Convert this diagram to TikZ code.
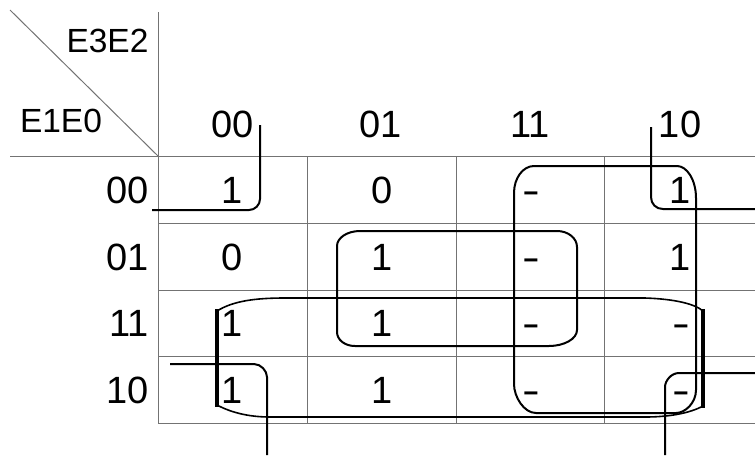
\documentclass[tikz,border=0pt]{standalone}
\usepackage{fontspec}
\setmainfont{Liberation Sans}
\newcommand{\dc}{\scalebox{1.4}[1]{-}}
\begin{document}
\begin{tikzpicture}[x=1pt,y=-1pt,
  gridline/.style={draw=black!55,line width=1pt},
  loopline/.style={draw=black,line width=2pt,line join=round},
  loopthin/.style={draw=black,line width=1.6pt,line join=round},
  loopside/.style={draw=black,line width=4.5pt},
  txt/.style={inner sep=0pt,text height=27.2pt,text depth=0pt,
    font=\fontsize{38}{40}\selectfont},
  vartxt/.style={inner sep=0pt,text height=24pt,text depth=0pt,
    font=\fontsize{33.5}{36}\selectfont}]
\useasboundingbox (0,0) rectangle (755,459);

% corner of the map: variable names and the diagonal
\draw[gridline] (10,10) -- (158,156);
\node[vartxt] (e32) at (107.5,40.5) {E3E2};
\node[vartxt] (e10) at (61,120) {E1E0};

% grid
\draw[gridline] (158,12) -- (158,423);
\draw[gridline] (10,156.5) -- (755,156.5);
\foreach \yy in {223,290,356,423} \draw[gridline] (158,\yy) -- (755,\yy);
\foreach \xx in {307,456,604} \draw[gridline] (\xx,156.5) -- (\xx,423);

% column headings
\node[txt] (c00) at (232.5,124) {00};
\node[txt] (c01) at (381,124) {01};
\node[txt] (c11) at (530,124) {11};
\node[txt] (c10) at (680,124) {10};

% row headings
\node[txt,anchor=east] (r00) at (149,190) {00};
\node[txt,anchor=east] (r01) at (149,256.5) {01};
\node[txt,anchor=east] (r11) at (149,323) {11};
\node[txt,anchor=east] (r10) at (149,390) {10};

% cell values
\node[txt] (v0000) at (232.5,190) {1};
\node[txt] (v0001) at (382,190) {0};
\node[txt] (v0011) at (531,190) {\dc};
\node[txt] (v0010) at (680,190) {1};
\node[txt] (v0100) at (232.5,256.5) {0};
\node[txt] (v0101) at (382,256.5) {1};
\node[txt] (v0111) at (531,256.5) {\dc};
\node[txt] (v0110) at (680,256.5) {1};
\node[txt] (v1100) at (232.5,323) {1};
\node[txt] (v1101) at (382,323) {1};
\node[txt] (v1111) at (531,323) {\dc};
\node[txt] (v1110) at (681,323) {\dc};
\node[txt] (v1000) at (232.5,390) {1};
\node[txt] (v1001) at (382,390) {1};
\node[txt] (v1011) at (531,390) {\dc};
\node[txt] (v1010) at (681,390) {\dc};

% loop: rows 01,11 x columns 01,11
\draw[loopline] (337,246) .. controls (337,238) and (347,231) .. (360,231)
  -- (557,231) .. controls (568,231) and (577,238) .. (577,247)
  -- (577,330) .. controls (577,339) and (564,346) .. (549,346)
  -- (355,346) .. controls (345,346) and (337,340) .. (337,332) -- cycle;

% loop: columns 11,10 x all rows
\draw[loopline] (514,193) .. controls (514,178) and (523,166) .. (534,166)
  -- (677,166) .. controls (687,166) and (696,180) .. (696,198)
  -- (696,390) .. controls (696,403) and (685,413) .. (676,413)
  -- (536,413) .. controls (524,413) and (514,397) .. (514,384) -- cycle;

% loop: rows 11,10 x all columns
\draw[loopthin] (217,311) .. controls (233,301) and (255,298) .. (285,298)
  -- (645,298) .. controls (675,299) and (695,304) .. (703,311);
\draw[loopthin] (703,406) .. controls (690,413) and (670,417) .. (645,417)
  -- (270,417) .. controls (250,417) and (232,413) .. (217,405);
\draw[loopside] (217,309) -- (217,407);
\draw[loopside] (703,309) -- (703,408);

% loop: the four corners
\draw[loopline] (260,125) -- (260,199) .. controls (260,205) and (255,210) .. (249,210) -- (152,210);
\draw[loopline] (651,127) -- (651,197) .. controls (651,204) and (656,209) .. (663,209) -- (755,209);
\draw[loopline] (170,364) -- (254,364) .. controls (261,364) and (267,371) .. (267,377) -- (267,455);
\draw[loopline] (665,455) -- (665,387) .. controls (665,381) and (671,373) .. (679,373) -- (755,373);
\end{tikzpicture}
\end{document}
